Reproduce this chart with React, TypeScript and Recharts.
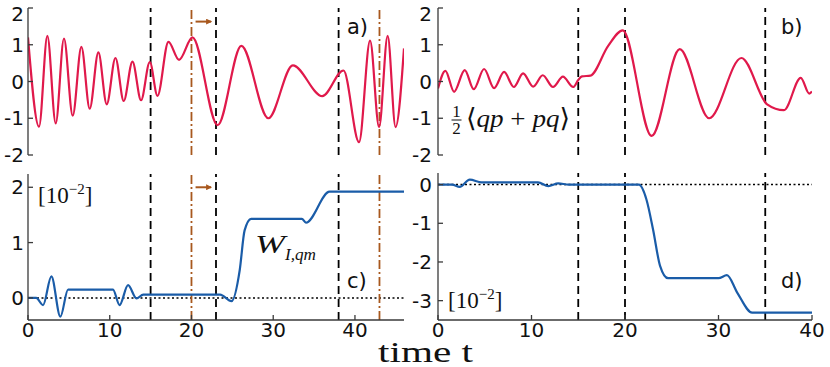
import React from 'react';
import { LineChart, Line, XAxis, YAxis, ReferenceLine } from 'recharts';

// panel a) : 1/2 <qp+pq>, long time axis
const aT = [0, 1.35, 2.37, 3.39, 4.4, 5.47, 6.53, 7.55, 8.61, 9.63, 10.7, 11.71, 12.78, 13.83, 14.9, 15.84, 17.18, 18.48, 20.12, 23.2, 26.1, 29.4, 32.4, 36.0, 38.6, 40.5, 41.85, 42.95, 44.0, 44.97, 46];
const aV = [1.2, -1.23, 1.24, -1.14, 1.17, -0.93, 0.94, -0.74, 0.79, -0.62, 0.64, -0.53, 0.54, -0.51, 0.53, -0.39, 1.08, 0.59, 1.2, -1.19, 0.97, -1.0, 0.44, -0.4, 0.3, -1.65, 1.11, -1.24, 1.24, -1.24, 0.9];

// panel b)
const bT = [0, 0.79, 1.72, 2.86, 3.82, 4.93, 6.0, 7.07, 8.11, 9.1, 10.18, 11.2, 12.3, 13.36, 14.46, 15.0, 15.4, 16.3, 18.2, 19.75, 22.85, 25.85, 29.0, 32.45, 35.2, 37.0, 38.8, 39.7, 40];
const bV = [-0.19, 0.29, -0.28, 0.31, -0.21, 0.34, -0.18, 0.26, -0.15, 0.22, -0.14, 0.17, -0.15, 0.13, -0.15, 0.04, 0.14, 0.16, 0.97, 1.39, -1.48, 0.88, -1.0, 0.64, -0.62, -0.78, 0.1, -0.33, -0.27];

// panel c) W_I,qm  [10^-2]
const cT = [0, 1.0, 1.84, 2.86, 3.96, 4.9, 10.4, 11.2, 12.24, 13.27, 14.1, 23.5, 24.9, 25.9, 26.5, 27.3, 33.5, 34.0, 36.9, 46];
const cV = [0, 0, -0.13, 0.39, -0.34, 0.15, 0.15, -0.13, 0.23, -0.01, 0.06, 0.06, -0.06, 0.5, 1.22, 1.43, 1.43, 1.36, 1.92, 1.92];

// panel d)  [10^-2]
const dT = [0, 1.5, 2.32, 3.4, 4.65, 10.7, 11.8, 12.86, 14.0, 21.5, 22.3, 23.0, 23.75, 24.6, 30.0, 30.9, 32.0, 33.6, 40];
const dV = [0, 0, -0.06, 0.13, 0.06, 0.06, -0.04, 0.03, 0, 0, -0.39, -1.16, -2.1, -2.42, -2.42, -2.34, -2.79, -3.31, -3.31];

const xTicks = [0, 10, 20, 30, 40];
const leftDashed = [15, 23, 38];
const leftDashDot = [20, 43];
const rightDashed = [15, 20, 35];

const RED = '#e0194b';
const BLUE = '#1a5ca8';
const BROWN = '#a8581e';
const FRAME = '#3a3a3a';
const FS = 20;

const toRows = (t: number[], v: number[]) => t.map((x, i) => ({ t: x, v: v[i] }));

function XTick(props: any) {
  return (
    <text x={props.x} y={props.y} dy={FS * 0.73} textAnchor="middle" fontFamily="DejaVu Sans" fontSize={FS} fill="#111">
      {props.payload.value}
    </text>
  );
}

function YTick(props: any) {
  // the topmost label sits a little lower so it stays inside the figure
  const y = Math.max(props.y, 13.5);
  return (
    <text x={props.x} y={y} dy={FS * 0.36} textAnchor="end" fontFamily="DejaVu Sans" fontSize={FS} fill="#111">
      {props.payload.value}
    </text>
  );
}

interface PanelProps {
  left: number;
  top: number;
  width: number;
  height: number;
  margin: { top: number; right: number; bottom: number; left: number };
  yWidth: number;
  yMargin: number;
  rows: { t: number; v: number }[];
  color: string;
  xMax: number;
  yDomain: [number, number];
  yTicks: number[];
  showX: boolean;
  dashed: number[];
  dashDot?: number[];
  zeroLine?: boolean;
  arrowY?: number;
}

function Panel(p: PanelProps) {
  const line = { stroke: FRAME, strokeWidth: 1.3 };
  return (
    <div style={{ position: 'absolute', left: p.left, top: p.top }}>
      <LineChart width={p.width} height={p.height} data={p.rows} margin={p.margin}>
        <defs>
          <marker id={`head${p.left}${p.top}`} markerWidth="6" markerHeight="6" refX="5" refY="3" orient="auto" markerUnits="userSpaceOnUse">
            <path d="M0,0 L6,3 L0,6 z" fill={BROWN} />
          </marker>
        </defs>
        <XAxis
          dataKey="t"
          type="number"
          domain={[0, p.xMax]}
          ticks={xTicks}
          interval={0}
          allowDataOverflow
          height={p.showX ? 30 : 0}
          tickSize={-5}
          tickMargin={7}
          tick={p.showX ? <XTick /> : false}
          axisLine={line}
          tickLine={line}
        />
        <XAxis
          xAxisId="top"
          orientation="top"
          dataKey="t"
          type="number"
          domain={[0, p.xMax]}
          ticks={xTicks}
          interval={0}
          allowDataOverflow
          height={0}
          tickSize={-5}
          tick={false}
          axisLine={line}
          tickLine={line}
        />
        <YAxis
          type="number"
          domain={p.yDomain}
          ticks={p.yTicks}
          interval={0}
          allowDataOverflow
          width={p.yWidth}
          tickSize={-5}
          tickMargin={p.yMargin}
          tick={<YTick />}
          axisLine={line}
          tickLine={line}
        />
        <YAxis
          yAxisId="right"
          orientation="right"
          type="number"
          domain={p.yDomain}
          ticks={p.yTicks}
          interval={0}
          allowDataOverflow
          width={0}
          tickSize={-5}
          tick={false}
          axisLine={line}
          tickLine={line}
        />
        {p.zeroLine && <ReferenceLine y={0} stroke="#000" strokeWidth={1.5} strokeDasharray="2 2.5" />}
        {p.dashed.map((x) => (
          <ReferenceLine key={`d${x}`} x={x} stroke="#000" strokeWidth={1.8} strokeDasharray="8 5" />
        ))}
        {(p.dashDot || []).map((x) => (
          <ReferenceLine key={`dd${x}`} x={x} stroke={BROWN} strokeWidth={1.8} strokeDasharray="9 3 2 3" />
        ))}
        {p.arrowY !== undefined && (
          <ReferenceLine
            segment={[{ x: 20.5, y: p.arrowY }, { x: 22.4, y: p.arrowY }]}
            stroke={BROWN}
            strokeWidth={2}
            markerEnd={`url(#head${p.left}${p.top})`}
          />
        )}
        <Line
          type="monotone"
          dataKey="v"
          stroke={p.color}
          strokeWidth={2.2}
          dot={false}
          isAnimationActive={false}
        />
      </LineChart>
    </div>
  );
}

const serif = 'Liberation Serif';

export default function App() {
  return (
    <div style={{ position: 'absolute', left: 0, top: 0, width: 830, height: 367, background: '#fff', overflow: 'hidden' }}>
      <Panel
        left={0} top={0} width={415} height={170}
        margin={{ top: 8, right: 11, bottom: 15, left: 0 }}
        yWidth={28} yMargin={9}
        rows={toRows(aT, aV)} color={RED} xMax={46}
        yDomain={[-2, 2]} yTicks={[-2, -1, 0, 1, 2]}
        showX={false} dashed={leftDashed} dashDot={leftDashDot} arrowY={1.63}
      />
      <Panel
        left={395} top={0} width={435} height={170}
        margin={{ top: 8, right: 18, bottom: 15, left: 0 }}
        yWidth={43} yMargin={11}
        rows={toRows(bT, bV)} color={RED} xMax={40}
        yDomain={[-2, 2]} yTicks={[-2, -1, 0, 1, 2]}
        showX={false} dashed={rightDashed}
      />
      <Panel
        left={0} top={170} width={415} height={197}
        margin={{ top: 4, right: 11, bottom: 17, left: 0 }}
        yWidth={28} yMargin={9}
        rows={toRows(cT, cV)} color={BLUE} xMax={46}
        yDomain={[-0.4, 2.24]} yTicks={[0, 1, 2]}
        showX dashed={leftDashed} dashDot={leftDashDot} zeroLine arrowY={2.0}
      />
      <Panel
        left={395} top={170} width={435} height={197}
        margin={{ top: 3, right: 18, bottom: 17, left: 0 }}
        yWidth={43} yMargin={11}
        rows={toRows(dT, dV)} color={BLUE} xMax={40}
        yDomain={[-3.5, 0.3]} yTicks={[-3, -2, -1, 0]}
        showX dashed={rightDashed} zeroLine
      />
      <svg width={830} height={367} style={{ position: 'absolute', left: 0, top: 0, pointerEvents: 'none' }}>
        <g fontFamily="DejaVu Sans" fontSize={21} fill="#111">
          <text x={347} y={34}>a)</text>
          <text x={781} y={34}>b)</text>
          <text x={347} y={287.5}>c)</text>
          <text x={781} y={287.5}>d)</text>
        </g>
        <text x={378} y={362} textLength={95} lengthAdjust="spacingAndGlyphs" fontFamily={serif} fontSize={29} fill="#111">time t</text>
        <g fontFamily={serif} fill="#111">
          <text x={456.5} y={117} fontSize={17} textAnchor="middle">1</text>
          <line x1={451.5} x2={461.5} y1={120} y2={120} stroke="#111" strokeWidth={1} />
          <text x={456.5} y={133.5} fontSize={17} textAnchor="middle">2</text>
          <text x={466} y={127} fontSize={26} textLength={104} lengthAdjust="spacingAndGlyphs">
            <tspan fontFamily="DejaVu Serif">⟨</tspan>
            <tspan fontStyle="italic">qp</tspan>
            <tspan> + </tspan>
            <tspan fontStyle="italic">pq</tspan>
            <tspan fontFamily="DejaVu Serif">⟩</tspan>
          </text>
          <text x={255} y={253} fontSize={26} fontStyle="italic" textLength={30} lengthAdjust="spacingAndGlyphs">W</text>
          <text x={285} y={259.5} fontSize={16} fontStyle="italic" textLength={31} lengthAdjust="spacingAndGlyphs">I,qm</text>
          <text x={38} y={203} fontSize={23}>
            [10<tspan fontSize={15} dy={-9}>−2</tspan><tspan dy={9}>]</tspan>
          </text>
          <text x={448} y={308} fontSize={23}>
            [10<tspan fontSize={15} dy={-9}>−2</tspan><tspan dy={9}>]</tspan>
          </text>
        </g>
      </svg>
    </div>
  );
}
